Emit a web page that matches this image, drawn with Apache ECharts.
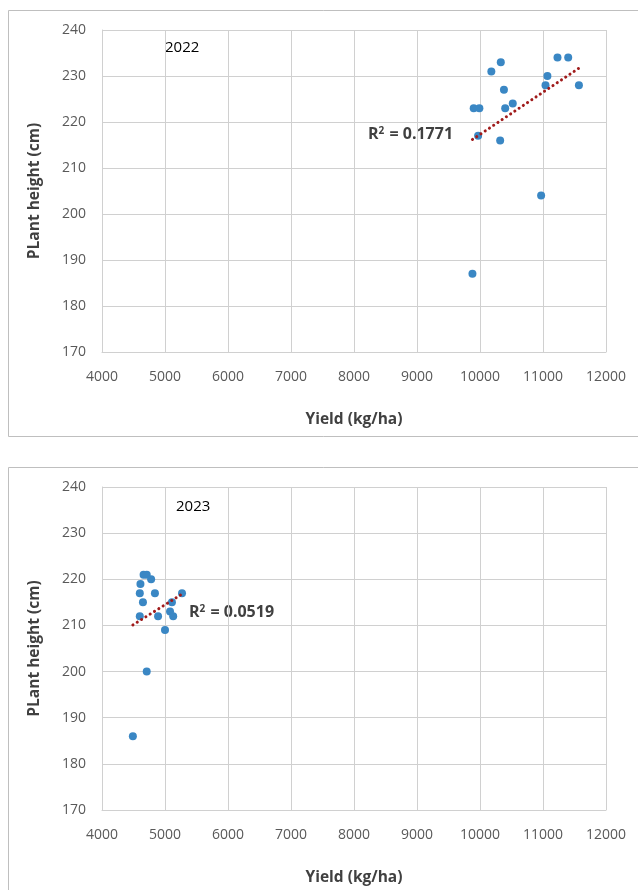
<!DOCTYPE html>
<html>
<head>
<meta charset="utf-8">
<script src="https://cdn.jsdelivr.net/npm/echarts@6/dist/echarts.min.js"></script>
<style>
html,body{margin:0;padding:0;background:#fff;}
#c{width:638px;height:890px;}
</style>
</head>
<body>
<div id="c"></div>
<script>
// ---- data ----
var xTicks = [4000, 5000, 6000, 7000, 8000, 9000, 10000, 11000, 12000];
var yTicks = [170, 180, 190, 200, 210, 220, 230, 240];

var yield2022 = [11230, 11400, 10330, 10180, 11070, 11040, 11570, 10380, 10520, 10400, 9900, 9990, 9970, 10320, 10970, 9880];
var height2022 = [234, 234, 233, 231, 230, 228, 228, 227, 224, 223, 223, 223, 217, 216, 204, 187];
var trendX2022 = [9880, 11570];
var trendY2022 = [216.2, 231.7];
var r2Value2022 = '0.1771';

var yield2023 = [4660, 4710, 4780, 4610, 4600, 4840, 5270, 4650, 5110, 5080, 5130, 4600, 4890, 5000, 4710, 4490];
var height2023 = [221, 221, 220, 219, 217, 217, 217, 215, 215, 213, 212, 212, 212, 209, 200, 186];
var trendX2023 = [4490, 5270];
var trendY2023 = [210.1, 216.8];
var r2Value2023 = '0.0519';

var yearLabels = ['2022', '2023'];
var xTitle = 'Yield (kg/ha)';
var yTitle = 'PLant height (cm)';

function zip(a, b) { return a.map(function (v, i) { return [v, b[i]]; }); }

var gridCol = '#d0d0d0';
var tickFont = { fontFamily: 'Open Sans', fontSize: 14, color: '#595959' };
var titleFont = { fontFamily: 'Open Sans', fontSize: 15.5, fontWeight: 'bold', color: '#404040' };

function xAxisCfg(idx) {
  return {
    gridIndex: idx, type: 'value', min: xTicks[0], max: xTicks[xTicks.length - 1], interval: 1000,
    name: xTitle, nameLocation: 'middle', nameGap: 60,
    nameTextStyle: titleFont,
    axisLine: { show: true, lineStyle: { color: gridCol, width: 1 } },
    axisTick: { show: false },
    axisLabel: Object.assign({ margin: 18, formatter: function (v) { return String(v); } }, tickFont),
    splitLine: { show: true, lineStyle: { color: gridCol, width: 1 } }
  };
}
function yAxisCfg(idx) {
  return {
    gridIndex: idx, type: 'value', min: yTicks[0], max: yTicks[yTicks.length - 1], interval: 10,
    name: yTitle, nameLocation: 'middle', nameGap: 59,
    nameTextStyle: titleFont,
    axisLine: { show: true, lineStyle: { color: gridCol, width: 1 } },
    axisTick: { show: false },
    axisLabel: Object.assign({ margin: 16 }, tickFont),
    splitLine: { show: true, lineStyle: { color: gridCol, width: 1 } }
  };
}

function r2Graphic(val, x, y) {
  return {
    type: 'text', left: x, top: y,
    style: {
      text: '{b|R}{s|2}{b| = ' + val + '}',
      fill: '#404040',
      rich: {
        b: { fontFamily: 'Open Sans', fontSize: 16, fontWeight: 'bold', fill: '#404040' },
        s: { fontFamily: 'Open Sans', fontSize: 10, fontWeight: 'bold', fill: '#404040', verticalAlign: 'top', padding: [0, 1, 7, 0] }
      }
    }
  };
}

var chart = echarts.init(document.getElementById('c'), null, { renderer: 'canvas' });
chart.setOption({
  animation: false,
  backgroundColor: '#ffffff',
  grid: [
    { left: 102, top: 30, width: 504, height: 322 },
    { left: 102, top: 487, width: 504, height: 323 }
  ],
  xAxis: [xAxisCfg(0), xAxisCfg(1)],
  yAxis: [yAxisCfg(0), yAxisCfg(1)],
  graphic: [
    { type: 'rect', shape: { x: 8.5, y: 10.5, width: 640, height: 426 }, style: { fill: 'none', stroke: '#bfbfbf', lineWidth: 1 }, z: -10 },
    { type: 'rect', shape: { x: 8.5, y: 467.5, width: 640, height: 440 }, style: { fill: 'none', stroke: '#bfbfbf', lineWidth: 1 }, z: -10 },
    { type: 'text', left: 165, top: 40, style: { text: yearLabels[0], fontFamily: 'Open Sans', fontSize: 15, fill: '#000' } },
    { type: 'text', left: 176, top: 499, style: { text: yearLabels[1], fontFamily: 'Open Sans', fontSize: 15, fill: '#000' } },
    r2Graphic(r2Value2022, 368, 126),
    r2Graphic(r2Value2023, 189, 604)
  ],
  series: [
    {
      type: 'scatter', xAxisIndex: 0, yAxisIndex: 0, data: zip(yield2022, height2022),
      symbolSize: 8, itemStyle: { color: '#3a87c4', opacity: 1 }, z: 3
    },
    {
      type: 'line', xAxisIndex: 0, yAxisIndex: 0, data: zip(trendX2022, trendY2022),
      symbol: 'none', lineStyle: { color: '#a01b1b', width: 3, type: [0.1, 5], cap: 'round' }, z: 4
    },
    {
      type: 'scatter', xAxisIndex: 1, yAxisIndex: 1, data: zip(yield2023, height2023),
      symbolSize: 8, itemStyle: { color: '#3a87c4', opacity: 1 }, z: 3
    },
    {
      type: 'line', xAxisIndex: 1, yAxisIndex: 1, data: zip(trendX2023, trendY2023),
      symbol: 'none', lineStyle: { color: '#a01b1b', width: 3, type: [0.1, 5], cap: 'round' }, z: 4
    }
  ]
});
</script>
</body>
</html>
